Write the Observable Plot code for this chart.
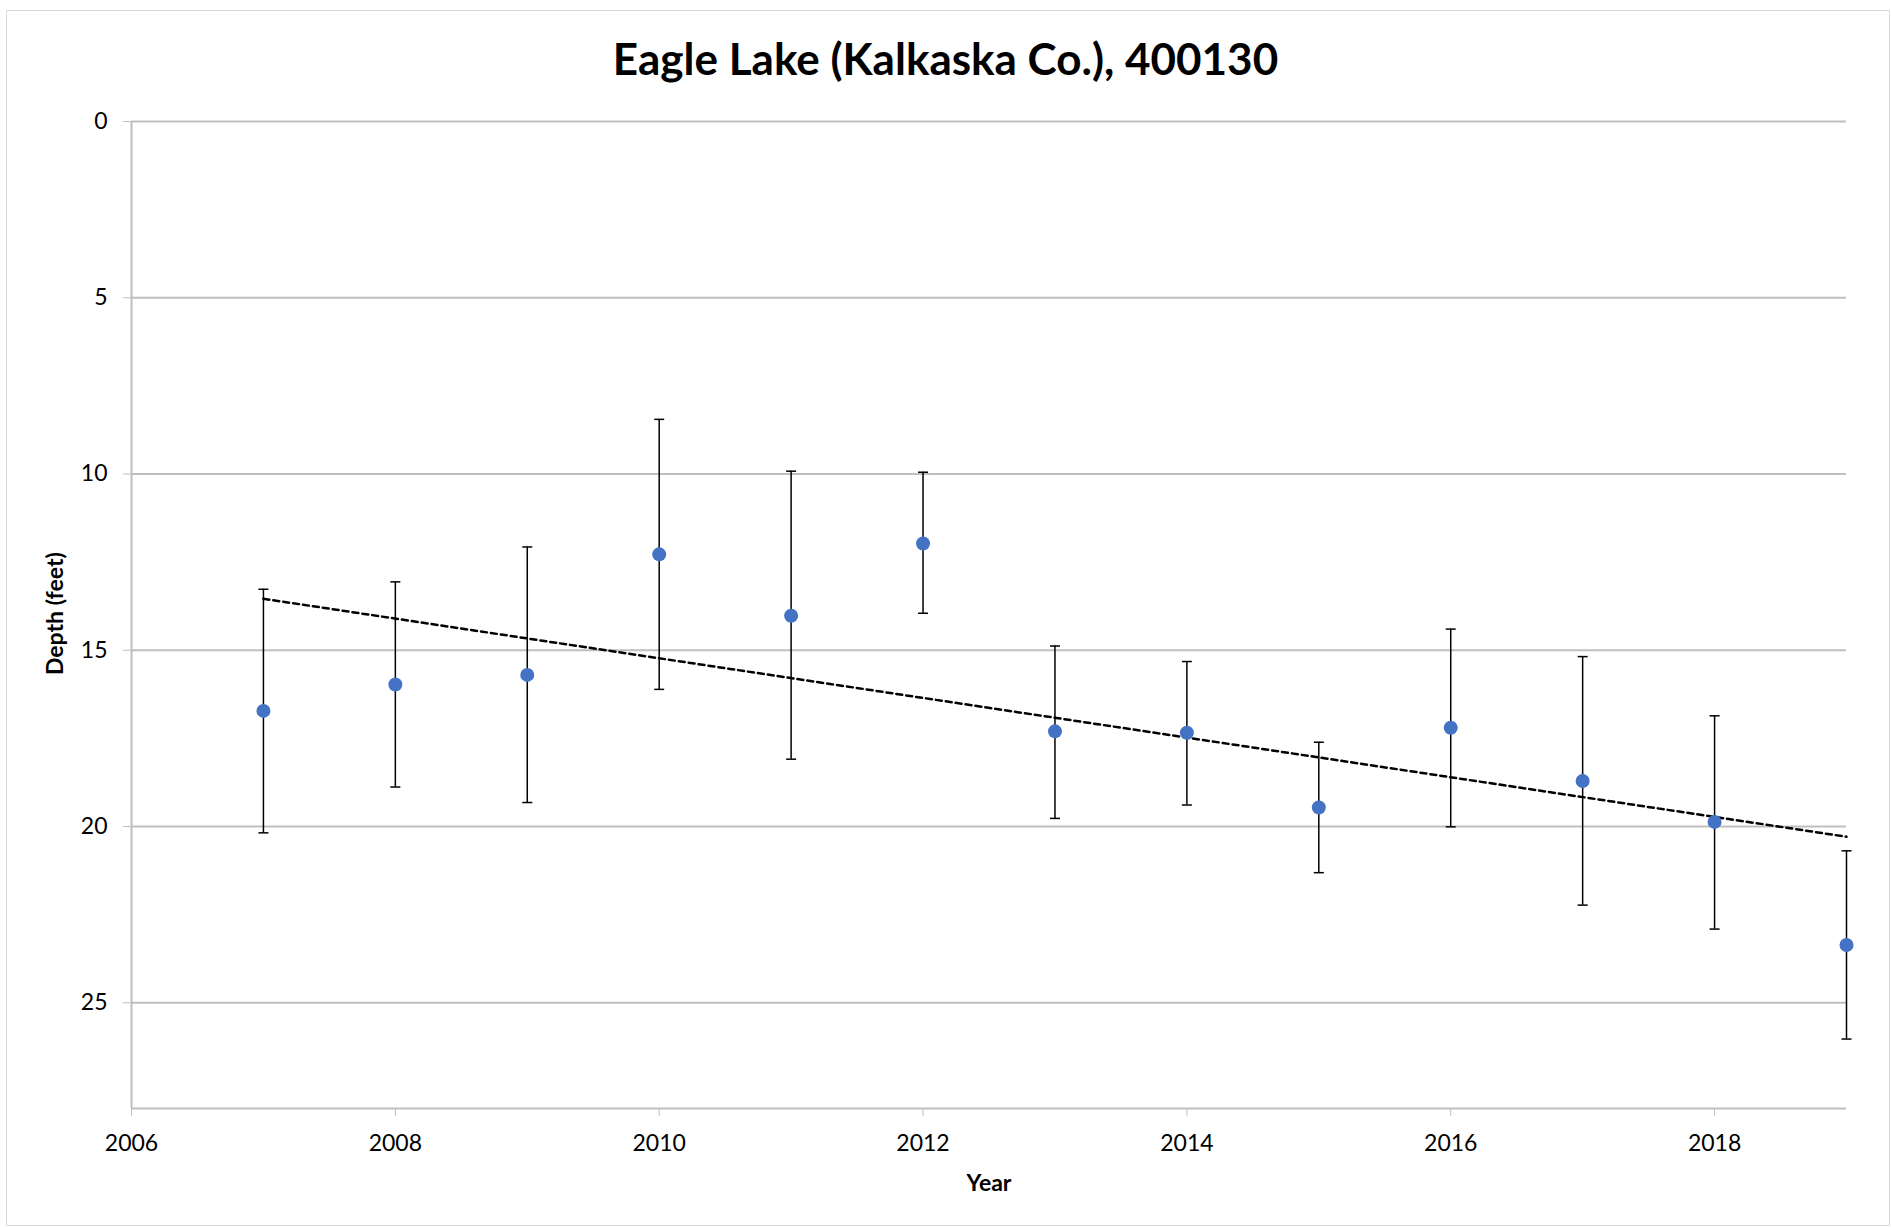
<!DOCTYPE html>
<html>
<head>
<meta charset="utf-8">
<script src="https://cdn.jsdelivr.net/npm/d3@7"></script>
<script src="https://cdn.jsdelivr.net/npm/@observablehq/plot@0.6"></script>
<style>
  body { margin: 0; background: #fff; font-family: Lato, "Open Sans", sans-serif; }
  #wrap { position: relative; width: 1891px; height: 1227px; }
  #frame { position: absolute; left: 6px; top: 10px; width: 1884px; height: 1216px; border: 1px solid #d9d9d9; box-sizing: border-box; }
  #title { position: absolute; top: 32px; left: 0; width: 1891px; text-align: center; font-size: 44px; font-weight: bold; color: #000; }
  #chart { position: absolute; left: 0; top: 0; }
</style>
</head>
<body>
<div id="wrap">
  <div id="frame"></div>
  <div id="title">Eagle Lake (Kalkaska Co.), 400130</div>
  <div id="chart"></div>
</div>
<script>
const years = [2007, 2008, 2009, 2010, 2011, 2012, 2013, 2014, 2015, 2016, 2017, 2018, 2019];
const depth = [16.72, 15.97, 15.70, 12.28, 14.02, 11.97, 17.30, 17.34, 19.46, 17.20, 18.71, 19.87, 23.36];
const low = [13.27, 13.06, 12.07, 8.45, 9.92, 9.95, 14.88, 15.32, 17.61, 14.40, 15.18, 16.86, 20.69];
const high = [20.18, 18.88, 19.32, 16.11, 18.09, 13.95, 19.77, 19.39, 21.31, 20.01, 22.23, 22.91, 26.03];
const xTicks = [2006, 2008, 2010, 2012, 2014, 2016, 2018];
const yTicks = [0, 5, 10, 15, 20, 25];

const data = years.map((year, i) => ({ year, depth: depth[i], low: low[i], high: high[i] }));
const caps = data.flatMap(d => [{ year: d.year, v: d.low }, { year: d.year, v: d.high }]);

const chart = Plot.plot({
  width: 1891,
  height: 1227,
  marginTop: 121,
  marginLeft: 131,
  marginRight: 45,
  marginBottom: 119,
  style: { fontFamily: "Lato, 'Open Sans', sans-serif", fontSize: "23px", color: "#000", background: "transparent" },
  x: { domain: [2006, 2019], ticks: xTicks, tickFormat: d => String(d), label: null },
  y: { domain: [0, 28], reverse: true, ticks: yTicks, label: null },
  marks: [
    Plot.gridY(yTicks, { stroke: "#bfbfbf", strokeOpacity: 1, strokeWidth: 2 }),
    Plot.ruleX([2006], { stroke: "#bfbfbf", strokeWidth: 2 }),
    Plot.ruleY([28], { stroke: "#bfbfbf", strokeWidth: 2 }),
    Plot.axisX({ ticks: xTicks, tickSize: 8, tickPadding: 18, stroke: "#bfbfbf", tickFormat: d => String(d), fontSize: 23, label: null }),
    Plot.axisY({ ticks: yTicks, tickSize: 8, tickPadding: 16, stroke: "#bfbfbf", fontSize: 23, label: null }),
    Plot.ruleX(data, { x: "year", y1: "low", y2: "high", stroke: "#000", strokeWidth: 1.5 }),
    Plot.dot(caps, {
      x: "year", y: "v", symbol: { draw(ctx) { ctx.moveTo(-5, 0); ctx.lineTo(5, 0); } }, r: 1, stroke: "#000", strokeWidth: 1.5, fill: "none"
    }),
    Plot.linearRegressionY(data, { x: "year", y: "depth", ci: 0, stroke: "#000", strokeWidth: 2.5, strokeDasharray: "6,4" }),
    Plot.dot(data, { x: "year", y: "depth", r: 7, fill: "#4472c4", stroke: "none" }),
    Plot.text(["Year"], { frameAnchor: "bottom", dy: 82, fontWeight: "bold", fontSize: 23 }),
    Plot.text(["Depth (feet)"], { frameAnchor: "left", dx: -76, dy: 60, rotate: -90, fontWeight: "bold", fontSize: 23 })
  ]
});
document.getElementById("chart").appendChild(chart);
</script>
</body>
</html>
